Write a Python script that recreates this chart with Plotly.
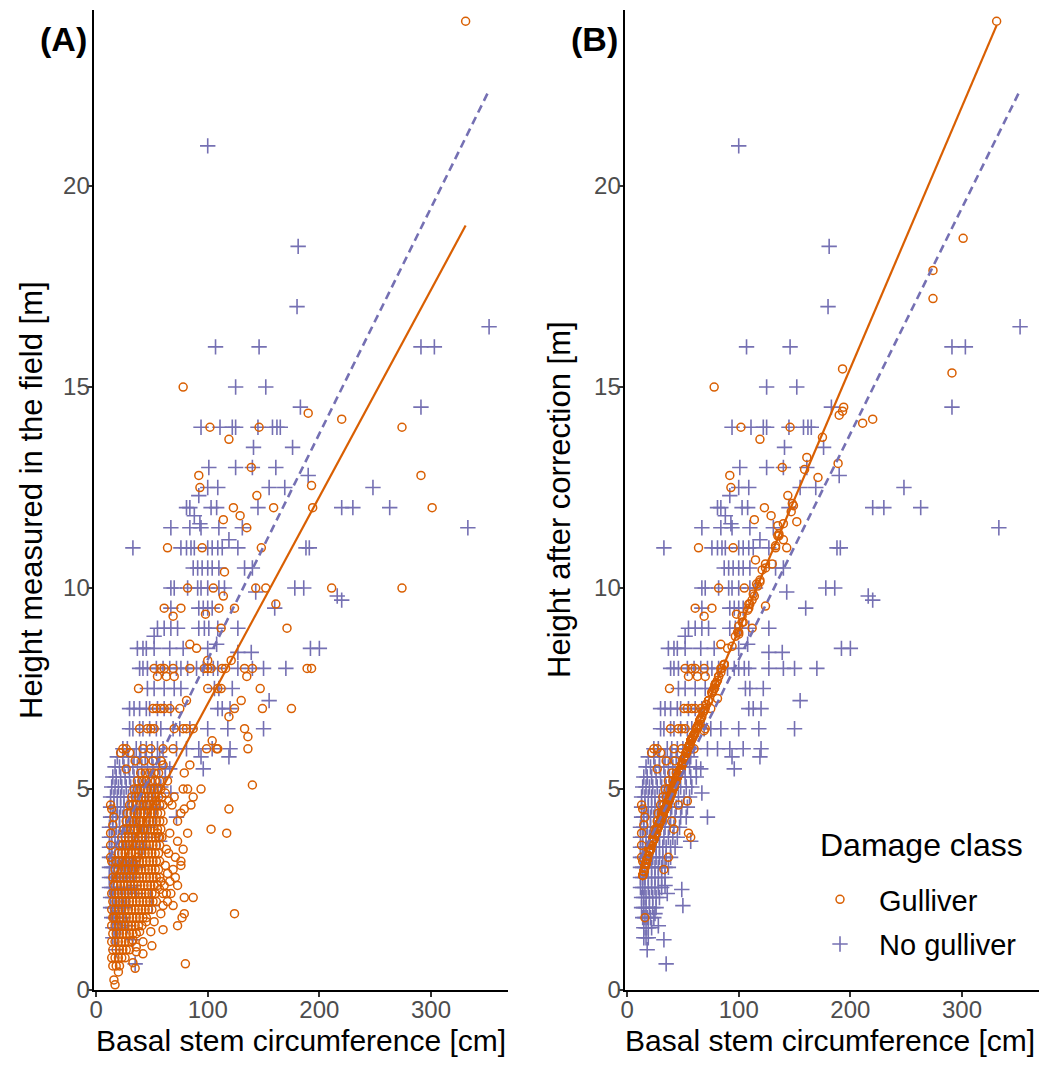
import plotly.graph_objects as go

ORANGE = "#d95f02"
PURPLE = "#7570b3"
FONT = "Liberation Sans, Arial, Helvetica, sans-serif"

# ---------------- data ----------------
# No gulliver trees: (basal stem circumference [cm], height [m]) - identical in both panels
no_gulliver = [
    (100, 21.0), (181, 18.5), (180, 17.0), (352, 16.5), (107, 16.0), (146, 16.0), (291, 16.0), (303, 16.0),
    (125, 15.0), (152, 15.0), (183, 14.5), (291, 14.5),
    (94, 14.0), (111, 14.0), (122, 14.0), (125, 14.0), (145, 14.0), (158, 14.0), (162, 14.0), (165, 14.0),
    (141, 13.5), (176, 13.5),
    (101, 13.0), (125, 13.0), (140, 13.0), (161, 13.0), (190, 12.8),
    (100, 12.5), (109, 12.5), (155, 12.5), (169, 12.5), (248, 12.5), (92, 12.3),
    (81, 12.0), (84, 12.0), (103, 12.0), (108, 12.0), (145, 12.0), (220, 12.0), (230, 12.0), (263, 12.0),
    (88, 11.8), (93, 11.6),
    (67, 11.5), (84, 11.5), (94, 11.5), (110, 11.5), (131, 11.5), (333, 11.5), (119, 11.2),
    (33, 11.0), (76, 11.0), (81, 11.0), (85, 11.0), (88, 11.0), (100, 11.0), (104, 11.0), (109, 11.0),
    (113, 11.0), (127, 11.0), (188, 11.0), (191, 11.0),
    (87, 10.5), (91, 10.5), (95, 10.5), (100, 10.5), (104, 10.5), (110, 10.5), (133, 10.5), (140, 10.5),
    (67, 10.0), (70, 10.0), (82, 10.0), (91, 10.0), (94, 10.0), (100, 10.0), (110, 10.0), (115, 10.0),
    (143, 9.9), (178, 10.0), (186, 10.0), (216, 9.8), (220, 9.7), (160, 9.5),
    (67, 9.5), (92, 9.5), (96, 9.5), (100, 9.5), (104, 9.5),
    (55, 9.0), (61, 9.0), (67, 9.0), (73, 9.0), (92, 9.0), (97, 9.0), (101, 9.0), (109, 9.0), (127, 9.0), (52, 8.8),
    (37, 8.5), (42, 8.5), (45, 8.5), (52, 8.5), (66, 8.5), (78, 8.5), (100, 8.5), (108, 8.6), (127, 8.4),
    (139, 8.4), (192, 8.5), (200, 8.5),
    (39, 8.0), (42, 8.0), (46, 8.0), (54, 8.0), (60, 8.0), (66, 8.0), (72, 8.0), (76, 8.0), (82, 8.0),
    (90, 8.0), (96, 8.0), (100, 8.0), (105, 8.0), (109, 8.0), (127, 8.0), (140, 8.0), (150, 8.0), (170, 8.0),
    (46, 7.5), (52, 7.5), (61, 7.5), (70, 7.5), (76, 7.5), (106, 7.5), (110, 7.5), (122, 7.5), (155, 7.2),
    (30, 7.0), (34, 7.0), (39, 7.0), (45, 7.0), (48, 7.0), (55, 7.0), (61, 7.0), (67, 7.0), (109, 7.0),
    (113, 7.0), (120, 7.0),
    (30, 6.5), (33, 6.5), (39, 6.5), (42, 6.5), (48, 6.5), (54, 6.5), (58, 6.5), (69, 6.5), (75, 6.5),
    (84, 6.5), (100, 6.5), (118, 6.5), (150, 6.5),
    (24, 6.0), (28, 6.0), (36, 6.0), (40, 6.0), (45, 6.0), (50, 6.0), (55, 6.0), (60, 6.0), (72, 6.0),
    (81, 6.0), (92, 6.0), (104, 6.0), (120, 6.0), (94, 5.8), (119, 5.8),
    (19, 5.8), (24, 5.8), (29, 5.8), (34, 5.8), (39, 5.8), (44, 5.8), (50, 5.8), (57, 5.8),
    (17, 5.55), (21, 5.55), (25, 5.55), (29, 5.55), (33, 5.55), (37, 5.55), (41, 5.55), (46, 5.55), (51, 5.55), (56, 5.55), (62, 5.55),
    (15, 5.3), (18, 5.3), (22, 5.3), (26, 5.3), (30, 5.3), (34, 5.3), (38, 5.3), (42, 5.3), (47, 5.3), (52, 5.3), (57, 5.3),
    (14, 5.05), (17, 5.05), (20, 5.05), (23, 5.05), (27, 5.05), (31, 5.05), (35, 5.05), (39, 5.05), (43, 5.05), (48, 5.05), (53, 5.05), (58, 5.05),
    (13, 4.8), (16, 4.8), (19, 4.8), (22, 4.8), (25, 4.8), (29, 4.8), (33, 4.8), (37, 4.8), (41, 4.8), (46, 4.8), (51, 4.8), (56, 4.8),
    (13, 4.55), (16, 4.55), (19, 4.55), (22, 4.55), (25, 4.55), (28, 4.55), (32, 4.55), (36, 4.55), (40, 4.55), (44, 4.55), (49, 4.55), (54, 4.55),
    (13, 4.3), (15, 4.3), (18, 4.3), (21, 4.3), (24, 4.3), (27, 4.3), (31, 4.3), (35, 4.3), (39, 4.3), (43, 4.3), (48, 4.3), (53, 4.3),
    (12, 4.05), (15, 4.05), (18, 4.05), (21, 4.05), (24, 4.05), (27, 4.05), (30, 4.05), (34, 4.05), (38, 4.05), (42, 4.05), (47, 4.05),
    (12, 3.8), (14, 3.8), (17, 3.8), (20, 3.8), (23, 3.8), (26, 3.8), (29, 3.8), (33, 3.8), (37, 3.8), (41, 3.8), (45, 3.8),
    (12, 3.55), (14, 3.55), (17, 3.55), (20, 3.55), (23, 3.55), (26, 3.55), (29, 3.55), (32, 3.55), (35, 3.55), (39, 3.55), (43, 3.55),
    (12, 3.3), (14, 3.3), (17, 3.3), (20, 3.3), (23, 3.3), (26, 3.3), (29, 3.3), (32, 3.3), (35, 3.3), (39, 3.3),
    (12, 3.05), (14, 3.05), (16, 3.05), (19, 3.05), (22, 3.05), (25, 3.05), (28, 3.05), (31, 3.05), (34, 3.05), (37, 3.05),
    (12, 2.8), (14, 2.8), (16, 2.8), (19, 2.8), (22, 2.8), (25, 2.8), (28, 2.8), (31, 2.8), (34, 2.8),
    (12, 2.55), (14, 2.55), (16, 2.55), (19, 2.55), (22, 2.55), (25, 2.55), (28, 2.55), (31, 2.55),
    (13, 2.3), (15, 2.3), (17, 2.3), (20, 2.3), (23, 2.3), (26, 2.3), (29, 2.3),
    (13, 2.05), (15, 2.05), (17, 2.05), (20, 2.05), (23, 2.05), (26, 2.05),
    (14, 1.8), (16, 1.8), (18, 1.8), (21, 1.8), (24, 1.8),
    (15, 1.55), (17, 1.55), (19, 1.55), (22, 1.55),
    (15, 1.3), (17, 1.3), (19, 1.3),
    (18, 1.0), (35, 0.65), (33, 1.25), (49, 2.5), (50, 2.1), (36, 2.4), (34, 2.6), (57, 3.7), (72, 4.3),
    (67, 4.9), (62, 5.3), (66, 5.5), (96, 5.5), (28, 1.6), (25, 1.9),
]

# Gulliver trees: (circumference [cm], height measured in the field [m], height after correction [m])
gulliver = [
    (331, 24.1, 24.1), (301, 12.0, 18.7), (274, 14.0, 17.9), (274, 10.0, 17.2), (291, 12.8, 15.35),
    (220, 14.2, 14.2), (211, 10.0, 14.1),
    (190, 14.35, 14.3), (193, 12.55, 14.4), (194, 12.0, 14.5), (189, 8.0, 13.1), (193, 8.0, 15.45),
    (78, 15.0, 15.0), (102, 14.0, 14.0), (146, 14.0, 14.0), (119, 13.7, 13.7), (139, 13.0, 13.0),
    (92, 12.8, 12.8), (93, 12.5, 12.5), (144, 12.3, 12.3), (123, 12.0, 12.0), (159, 12.0, 12.95),
    (129, 11.8, 11.8), (114, 11.7, 11.7), (135, 11.5, 11.55), (64, 11.0, 11.0), (95, 11.0, 11.0), (148, 11.0, 12.1),
    (115, 10.4, 10.7), (82, 10.0, 10.0), (105, 10.0, 10.0), (143, 10.0, 11.0), (152, 10.0, 11.65),
    (114, 9.8, 9.8), (61, 9.5, 9.5), (76, 9.5, 9.5), (110, 9.5, 9.6), (124, 9.5, 9.55), (161, 9.6, 13.25),
    (69, 9.3, 9.3), (112, 9.0, 9.0), (171, 9.0, 12.75), (98, 9.35, 9.35),
    (84, 8.6, 8.6), (90, 8.5, 8.5), (100, 8.2, 8.9), (121, 8.2, 10.45),
    (52, 8.0, 8.0), (58, 8.0, 8.0), (61, 8.0, 8.0), (69, 8.0, 8.0), (84, 8.0, 8.0), (97, 8.0, 8.8),
    (100, 8.0, 9.05), (103, 8.0, 9.3), (113, 8.0, 9.85), (116, 8.0, 10.1), (133, 8.0, 11.0), (140, 8.0, 11.2),
    (55, 7.8, 7.8), (63, 7.8, 7.8), (70, 7.8, 7.8), (135, 7.8, 11.3),
    (38, 7.5, 7.5), (100, 7.5, 8.85), (109, 7.5, 9.5), (112, 7.5, 9.7), (147, 7.5, 11.9),
    (81, 7.2, 7.25), (130, 7.2, 10.6),
    (51, 7.0, 7.0), (54, 7.0, 7.0), (58, 7.0, 7.0), (61, 7.0, 7.0), (66, 7.0, 7.0), (75, 7.0, 7.0),
    (124, 7.0, 10.6), (149, 7.0, 12.05), (175, 7.0, 13.75), (119, 6.8, 10.15),
    (39, 6.5, 6.5), (46, 6.5, 6.5), (49, 6.5, 6.5), (52, 6.5, 6.5), (70, 6.5, 6.5), (78, 6.5, 7.5),
    (81, 6.5, 7.7), (87, 6.5, 8.1), (133, 6.5, 11.05), (136, 6.3, 11.35), (104, 6.2, 9.15),
    (24, 6.0, 6.0), (27, 6.0, 6.0), (42, 6.0, 6.0), (49, 6.0, 6.0), (60, 6.0, 6.0), (69, 6.0, 6.45),
    (99, 6.0, 8.9), (108, 6.0, 9.45), (109, 6.0, 9.6), (136, 6.0, 11.3),
    (27, 5.5, 5.5), (22, 5.9, 5.9), (30, 5.9, 5.9), (84, 5.6, 7.9), (79, 5.4, 7.6), (60, 5.6, 6.35),
    (78, 5.0, 7.5), (82, 5.0, 7.8), (94, 5.0, 8.55), (140, 5.1, 11.6),
    (87, 4.8, 8.1), (85, 4.6, 8.0), (119, 4.5, 10.2), (103, 4.0, 9.15), (117, 3.9, 10.05), (124, 1.9, 10.5),
    (80, 0.65, 7.65),
    (65, 4.7, 6.7), (68, 4.6, 6.9), (70, 4.8, 7.0), (62, 4.9, 6.5), (64, 5.2, 6.6), (73, 4.2, 7.2),
    (76, 4.4, 7.4), (79, 4.5, 7.6), (82, 3.9, 7.8), (66, 3.9, 6.75), (73, 3.7, 7.2), (78, 3.5, 7.5),
    (63, 3.5, 6.55), (71, 3.3, 7.1), (65, 3.4, 6.7), (76, 3.2, 7.4), (62, 3.1, 6.5), (69, 3.0, 6.95),
    (76, 3.1, 7.4), (64, 2.9, 6.6), (71, 2.8, 7.1), (73, 2.6, 7.2), (66, 2.7, 6.75), (61, 2.6, 6.4),
    (58, 2.7, 6.25), (67, 2.4, 6.8), (63, 2.4, 6.55), (87, 2.3, 8.1), (79, 2.3, 7.6), (64, 2.2, 6.6),
    (60, 2.1, 6.35), (60, 2.4, 6.35), (57, 2.5, 6.2), (69, 2.1, 6.95), (79, 1.9, 7.6), (58, 1.9, 6.25),
    (77, 1.8, 7.45), (73, 1.6, 7.2), (52, 1.7, 5.8), (45, 1.7, 5.3), (60, 1.5, 6.35), (49, 1.45, 5.6),
    (39, 1.45, 4.85), (50, 1.1, 5.65), (42, 1.2, 5.05), (42, 0.9, 5.05), (36, 0.95, 4.6), (36, 1.07, 4.6),
    (33, 1.24, 4.45), (35, 0.54, 4.55), (33, 0.68, 4.45),
    (46, 4.6, 4.6), (54, 4.7, 4.7), (55, 3.9, 3.9), (57, 3.8, 3.8), (37, 3.3, 3.3), (33, 3.0, 3.0),
    (16, 1.8, 1.8), (40, 4.2, 4.2), (42, 4.0, 4.0),
    (13, 4.6, 4.6), (13, 3.6, 3.6), (14, 3.2, 3.2), (13, 3.9, 3.9), (16, 4.3, 4.3), (14, 4.5, 4.5),
    (13, 3.3, 3.3), (15, 4.1, 4.1),
    (17, 0.13, 3.15), (16, 0.25, 3.05), (20, 0.45, 3.45),
    (15, 0.6, 2.95), (18, 0.6, 3.25), (21, 0.6, 3.5),
    (14, 0.8, 2.85), (17, 0.8, 3.15), (20, 0.8, 3.45), (23, 0.8, 3.7), (26, 0.8, 3.9),
    (15, 1.0, 2.95), (18, 1.0, 3.25), (21, 1.0, 3.5), (24, 1.0, 3.75), (27, 1.0, 4.0), (30, 1.0, 4.2),
    (14, 1.2, 2.85), (17, 1.2, 3.15), (20, 1.2, 3.45), (23, 1.2, 3.7), (26, 1.2, 3.9), (29, 1.2, 4.15), (32, 1.2, 4.35),
    (15, 1.4, 2.95), (18, 1.4, 3.25), (21, 1.4, 3.5), (24, 1.4, 3.75), (27, 1.4, 4.0), (30, 1.4, 4.2), (33, 1.4, 4.45), (36, 1.4, 4.6),
    (14, 1.6, 2.85), (17, 1.6, 3.15), (20, 1.6, 3.45), (23, 1.6, 3.7), (26, 1.6, 3.9), (29, 1.6, 4.15), (32, 1.6, 4.35),
    (35, 1.6, 4.55), (38, 1.6, 4.75), (41, 1.6, 5.0),
    (15, 1.8, 2.95), (18, 1.8, 3.25), (21, 1.8, 3.5), (24, 1.8, 3.75), (27, 1.8, 4.0), (30, 1.8, 4.2), (33, 1.8, 4.45),
    (36, 1.8, 4.6), (39, 1.8, 4.85), (42, 1.8, 5.05), (45, 1.8, 5.3),
    (14, 2.0, 2.85), (17, 2.0, 3.15), (20, 2.0, 3.45), (23, 2.0, 3.7), (26, 2.0, 3.9), (29, 2.0, 4.15), (32, 2.0, 4.35),
    (35, 2.0, 4.55), (38, 2.0, 4.75), (41, 2.0, 5.0), (44, 2.0, 5.2), (47, 2.0, 5.45), (50, 2.0, 5.65),
    (15, 2.2, 2.95), (18, 2.2, 3.25), (21, 2.2, 3.5), (24, 2.2, 3.75), (27, 2.2, 4.0), (30, 2.2, 4.2), (33, 2.2, 4.45),
    (36, 2.2, 4.6), (39, 2.2, 4.85), (42, 2.2, 5.05), (45, 2.2, 5.3), (48, 2.2, 5.5), (51, 2.2, 5.75), (54, 2.2, 5.95),
    (14, 2.4, 2.85), (17, 2.4, 3.15), (20, 2.4, 3.45), (23, 2.4, 3.7), (26, 2.4, 3.9), (29, 2.4, 4.15), (32, 2.4, 4.35),
    (35, 2.4, 4.55), (38, 2.4, 4.75), (41, 2.4, 5.0), (44, 2.4, 5.2), (47, 2.4, 5.45), (50, 2.4, 5.65), (53, 2.4, 5.9),
    (16, 2.6, 3.05), (19, 2.6, 3.35), (22, 2.6, 3.6), (25, 2.6, 3.85), (28, 2.6, 4.05), (31, 2.6, 4.3), (34, 2.6, 4.5),
    (37, 2.6, 4.7), (40, 2.6, 4.9), (43, 2.6, 5.15), (46, 2.6, 5.35), (49, 2.6, 5.6), (52, 2.6, 5.8), (55, 2.6, 6.05),
    (15, 2.8, 2.95), (18, 2.8, 3.25), (21, 2.8, 3.5), (24, 2.8, 3.75), (27, 2.8, 4.0), (30, 2.8, 4.2), (33, 2.8, 4.45),
    (36, 2.8, 4.6), (39, 2.8, 4.85), (42, 2.8, 5.05), (45, 2.8, 5.3), (48, 2.8, 5.5), (51, 2.8, 5.75), (54, 2.8, 5.95), (57, 2.8, 6.2),
    (17, 3.0, 3.15), (20, 3.0, 3.45), (23, 3.0, 3.7), (26, 3.0, 3.9), (29, 3.0, 4.15), (32, 3.0, 4.35), (35, 3.0, 4.55),
    (38, 3.0, 4.75), (41, 3.0, 5.0), (44, 3.0, 5.2), (47, 3.0, 5.45), (50, 3.0, 5.65), (53, 3.0, 5.9), (56, 3.0, 6.1),
    (18, 3.2, 3.25), (21, 3.2, 3.5), (24, 3.2, 3.75), (27, 3.2, 4.0), (30, 3.2, 4.2), (33, 3.2, 4.45), (36, 3.2, 4.6),
    (39, 3.2, 4.85), (42, 3.2, 5.05), (45, 3.2, 5.3), (48, 3.2, 5.5), (51, 3.2, 5.75), (54, 3.2, 5.95), (57, 3.2, 6.2),
    (20, 3.4, 3.45), (23, 3.4, 3.7), (26, 3.4, 3.9), (29, 3.4, 4.15), (32, 3.4, 4.35), (35, 3.4, 4.55), (38, 3.4, 4.75),
    (41, 3.4, 5.0), (44, 3.4, 5.2), (47, 3.4, 5.45), (50, 3.4, 5.65), (53, 3.4, 5.9), (56, 3.4, 6.1),
    (21, 3.6, 3.6), (24, 3.6, 3.75), (27, 3.6, 4.0), (30, 3.6, 4.2), (33, 3.6, 4.45), (36, 3.6, 4.6), (39, 3.6, 4.85),
    (42, 3.6, 5.05), (45, 3.6, 5.3), (48, 3.6, 5.5), (51, 3.6, 5.75), (54, 3.6, 5.95), (57, 3.6, 6.2),
    (23, 3.8, 3.8), (26, 3.8, 3.9), (29, 3.8, 4.15), (32, 3.8, 4.35), (35, 3.8, 4.55), (38, 3.8, 4.75), (41, 3.8, 5.0),
    (44, 3.8, 5.2), (47, 3.8, 5.45), (50, 3.8, 5.65), (53, 3.8, 5.9), (56, 3.8, 6.1), (59, 3.8, 6.3),
    (25, 4.0, 4.0), (28, 4.0, 4.05), (31, 4.0, 4.3), (34, 4.0, 4.5), (37, 4.0, 4.7), (40, 4.0, 4.9), (43, 4.0, 5.15),
    (46, 4.0, 5.35), (49, 4.0, 5.6), (52, 4.0, 5.8), (55, 4.0, 6.05), (58, 4.0, 6.25),
    (27, 4.2, 4.2), (30, 4.2, 4.2), (33, 4.2, 4.45), (36, 4.2, 4.6), (39, 4.2, 4.85), (42, 4.2, 5.05), (45, 4.2, 5.3),
    (48, 4.2, 5.5), (51, 4.2, 5.75), (54, 4.2, 5.95), (57, 4.2, 6.2), (60, 4.2, 6.35),
    (28, 4.4, 4.4), (31, 4.4, 4.4), (34, 4.4, 4.5), (37, 4.4, 4.7), (40, 4.4, 4.9), (43, 4.4, 5.15), (46, 4.4, 5.35),
    (49, 4.4, 5.6), (52, 4.4, 5.8), (55, 4.4, 6.05), (58, 4.4, 6.25),
    (30, 4.6, 4.6), (33, 4.6, 4.6), (36, 4.6, 4.6), (39, 4.6, 4.85), (42, 4.6, 5.05), (45, 4.6, 5.3), (48, 4.6, 5.5),
    (51, 4.6, 5.75), (54, 4.6, 5.95), (57, 4.6, 6.2), (60, 4.6, 6.35),
    (32, 4.8, 4.8), (35, 4.8, 4.8), (38, 4.8, 4.8), (41, 4.8, 5.0), (44, 4.8, 5.2), (47, 4.8, 5.45), (50, 4.8, 5.65),
    (53, 4.8, 5.9), (56, 4.8, 6.1), (59, 4.8, 6.3),
    (34, 5.0, 5.0), (37, 5.0, 5.0), (40, 5.0, 5.0), (43, 5.0, 5.15), (46, 5.0, 5.35), (49, 5.0, 5.6), (52, 5.0, 5.8),
    (55, 5.0, 6.05), (58, 5.0, 6.25),
    (37, 5.2, 5.2), (41, 5.2, 5.2), (45, 5.2, 5.3), (49, 5.2, 5.6), (53, 5.2, 5.9), (57, 5.2, 6.2),
    (40, 5.4, 5.4), (44, 5.4, 5.4), (48, 5.4, 5.5), (52, 5.4, 5.8), (56, 5.4, 6.1),
    (35, 5.7, 5.7), (43, 5.7, 5.7), (51, 5.7, 5.75), (58, 5.7, 6.25),
]

# Fitted linear models: (intercept, slope)
fit_field_gulliver = (1.97, 0.0515)
fit_corrected_gulliver = (2.45, 0.0651)
fit_no_gulliver = (2.6, 0.0562)

x_ticks = [0, 100, 200, 300]
y_ticks = [0, 5, 10, 15, 20]
x_range = [-2.3, 368.5]
y_range = [0, 24.38]

series_names = ["Gulliver", "No gulliver"]
panel_labels = ["(A)", "(B)"]
y_titles = ["Height measured in the field [m]", "Height after correction [m]"]
x_title = "Basal stem circumference [cm]"
legend_title = "Damage class"

# ---------------- build figure ----------------
ng_x = [p[0] for p in no_gulliver]
ng_y = [p[1] for p in no_gulliver]
g_x = [p[0] for p in gulliver]
g_field = [p[1] for p in gulliver]
g_corr = [p[2] for p in gulliver]


def fit_line(coef, xs):
    a, b = coef
    x0, x1 = min(xs), max(xs)
    return [x0, x1], [a + b * x0, a + b * x1]


# the page body has an 8px margin: the figure is drawn 8px in from the window's corner
OFF = 8
W, H = 1049 - 2 * OFF, 1066 - 2 * OFF


def px(X):
    return (X - OFF) / W


def py(Y):
    return 1 - (Y - OFF) / H


fig = go.Figure()

circle = dict(symbol="circle-open", size=8, color=ORANGE, line=dict(width=1.5, color=ORANGE))
cross = dict(symbol="cross-thin-open", size=11, color=PURPLE, line=dict(width=1.6, color=PURPLE))

for i, (gy, fit_g) in enumerate([(g_field, fit_field_gulliver), (g_corr, fit_corrected_gulliver)]):
    xa = "x" if i == 0 else "x2"
    ya = "y" if i == 0 else "y2"
    # crosses first, circles drawn over them
    fig.add_trace(go.Scatter(x=ng_x, y=ng_y, mode="markers", marker=cross, name=series_names[1],
                             legendgroup="ng", legendrank=2, showlegend=(i == 0), cliponaxis=False,
                             xaxis=xa, yaxis=ya))
    fig.add_trace(go.Scatter(x=g_x, y=gy, mode="markers", marker=circle, name=series_names[0],
                             legendgroup="g", legendrank=1, showlegend=(i == 0), cliponaxis=False,
                             xaxis=xa, yaxis=ya))
    lx, ly = fit_line(fit_g, g_x)
    fig.add_trace(go.Scatter(x=lx, y=ly, mode="lines", line=dict(color=ORANGE, width=2.2),
                             showlegend=False, hoverinfo="skip", xaxis=xa, yaxis=ya))
    nx, ny = fit_line(fit_no_gulliver, ng_x)
    fig.add_trace(go.Scatter(x=nx, y=ny, mode="lines", line=dict(color=PURPLE, width=2.6, dash="8px,5px"),
                             showlegend=False, hoverinfo="skip", xaxis=xa, yaxis=ya))

axis_common = dict(
    showline=True, linecolor="black", linewidth=1.9, showgrid=False, zeroline=False,
    ticks="outside", ticklen=5, tickwidth=1.9, tickcolor="#333333", ticklabelstandoff=-8,
    tickfont=dict(family=FONT, size=24, color="#4d4d4d"), automargin=False,
)

xd = [[px(93.5), px(507.5)], [px(624.5), px(1038.5)]]
yd = [py(990), py(10)]

fig.update_layout(
    width=W, height=H,
    margin=dict(l=0, r=0, t=0, b=0),
    paper_bgcolor="white", plot_bgcolor="white",
    font=dict(family=FONT, color="black"),
    xaxis=dict(domain=xd[0], range=x_range, tickvals=x_ticks, anchor="y", **axis_common),
    yaxis=dict(domain=yd, range=y_range, tickvals=y_ticks, anchor="x", **axis_common),
    xaxis2=dict(domain=xd[1], range=x_range, tickvals=x_ticks, anchor="y2", **axis_common),
    yaxis2=dict(domain=yd, range=y_range, tickvals=y_ticks, anchor="x2", **axis_common),
    legend=dict(
        font=dict(family=FONT, size=29, color="black"),
        x=px(801), y=py(874), xanchor="left", yanchor="top",
        bgcolor="rgba(0,0,0,0)", tracegroupgap=4, itemwidth=68,
    ),
    showlegend=True,
)

ann = [dict(text=legend_title, x=px(818), y=py(845), xref="paper", yref="paper", showarrow=False,
            xanchor="left", yanchor="middle", font=dict(family=FONT, size=32, color="black"))]
for i, cx in enumerate([63.5, 594]):
    ann.append(dict(text="<b>%s</b>" % panel_labels[i], x=px(cx), y=py(39), xref="paper", yref="paper",
                    showarrow=False, xanchor="center", yanchor="middle",
                    font=dict(family=FONT, size=34, color="black")))
for i, cx in enumerate([31, 559]):
    ann.append(dict(text=y_titles[i], x=px(cx), y=py(500), xref="paper", yref="paper", textangle=-90,
                    showarrow=False, xanchor="center", yanchor="middle",
                    font=dict(family=FONT, size=31, color="black")))
for i, cx in enumerate([300.5, 830]):
    ann.append(dict(text=x_title, x=px(cx), y=py(1040), xref="paper", yref="paper",
                    showarrow=False, xanchor="center", yanchor="middle",
                    font=dict(family=FONT, size=30, color="black")))
fig.update_layout(annotations=ann)

fig.write_html("out.html")
